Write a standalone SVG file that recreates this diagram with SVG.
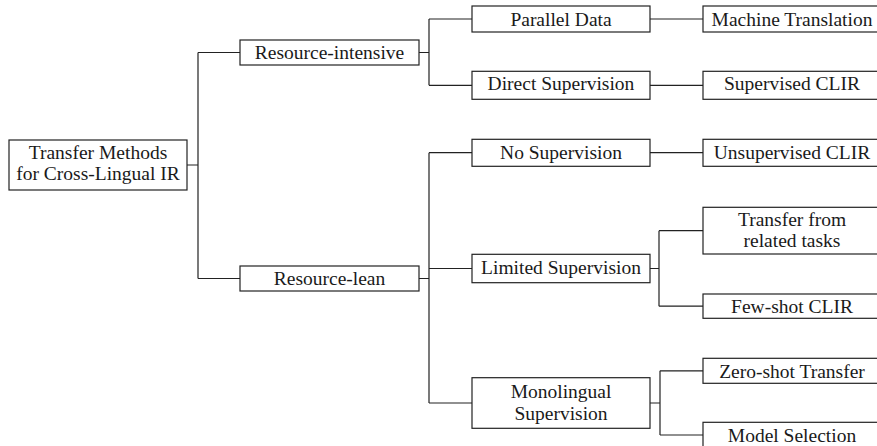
<svg xmlns="http://www.w3.org/2000/svg" width="877" height="446" viewBox="0 0 877 446">
  <style>
    .box { fill: #ffffff; stroke: #222222; stroke-width: 1.2; }
    .edge { fill: none; stroke: #222222; stroke-width: 1.2; }
    .lbl { font-size: 19.5px; fill: #1a1a1a; text-anchor: middle; }
  </style>
  <rect width="877" height="446" fill="#ffffff"/>

  <!-- tree connectors: parent stub, vertical spine, child branches -->
  <g id="connectors" class="edge">
    <path d="M187,165 H198 M198,52.5 V278.5 M198,52.5 H240 M198,278.5 H240"/>
    <path d="M419,52.5 H429 M429,19 V85.3 M429,19 H472 M429,85.3 H472"/>
    <path d="M650,19 H703 M650,85.3 H703"/>
    <path d="M419,278.5 H429 M429,152.7 V403 M429,152.7 H472 M429,268.5 H472 M429,403 H472"/>
    <path d="M650,152.7 H703"/>
    <path d="M650,268.5 H659 M659,230.7 V306.2 M659,230.7 H703 M659,306.2 H703"/>
    <path d="M650,403 H660 M660,370.8 V435 M660,370.8 H703 M660,435 H703"/>
  </g>

  <g id="nodes" font-family="Liberation Serif, DejaVu Serif, serif">
    <!-- level 0 -->
    <g id="root">
      <rect class="box" x="9" y="140" width="178" height="50"/>
      <text class="lbl" x="98" y="158.5">Transfer Methods</text>
      <text class="lbl" x="98" y="180">for Cross-Lingual IR</text>
    </g>

    <!-- level 1 -->
    <g id="resource-intensive">
      <rect class="box" x="240" y="40" width="179" height="25"/>
      <text class="lbl" x="329.5" y="59">Resource-intensive</text>
    </g>
    <g id="resource-lean">
      <rect class="box" x="240" y="266" width="179" height="25"/>
      <text class="lbl" x="329.5" y="285">Resource-lean</text>
    </g>

    <!-- level 2 -->
    <g id="parallel-data">
      <rect class="box" x="472" y="6" width="178" height="26"/>
      <text class="lbl" x="561" y="25.5">Parallel Data</text>
    </g>
    <g id="direct-supervision">
      <rect class="box" x="472" y="71.3" width="178" height="28"/>
      <text class="lbl" x="561" y="90">Direct Supervision</text>
    </g>
    <g id="no-supervision">
      <rect class="box" x="472" y="139.3" width="178" height="27"/>
      <text class="lbl" x="561" y="158.5">No Supervision</text>
    </g>
    <g id="limited-supervision">
      <rect class="box" x="472" y="254.3" width="178" height="28.4"/>
      <text class="lbl" x="561" y="273.6">Limited Supervision</text>
    </g>
    <g id="monolingual-supervision">
      <rect class="box" x="472" y="377.7" width="178" height="50.6"/>
      <text class="lbl" x="561" y="398.3">Monolingual</text>
      <text class="lbl" x="561" y="419.5">Supervision</text>
    </g>

    <!-- level 3 -->
    <g id="machine-translation">
      <rect class="box" x="703" y="6" width="178" height="26"/>
      <text class="lbl" x="792" y="25.5">Machine Translation</text>
    </g>
    <g id="supervised-clir">
      <rect class="box" x="703" y="71.3" width="178" height="28"/>
      <text class="lbl" x="792" y="90">Supervised CLIR</text>
    </g>
    <g id="unsupervised-clir">
      <rect class="box" x="703" y="139.3" width="178" height="27"/>
      <text class="lbl" x="792" y="158.5">Unsupervised CLIR</text>
    </g>
    <g id="transfer-related-tasks">
      <rect class="box" x="703" y="207.3" width="178" height="46.7"/>
      <text class="lbl" x="792" y="225.5">Transfer from</text>
      <text class="lbl" x="792" y="246.7">related tasks</text>
    </g>
    <g id="few-shot-clir">
      <rect class="box" x="703" y="294" width="178" height="24.3"/>
      <text class="lbl" x="792" y="312.7">Few-shot CLIR</text>
    </g>
    <g id="zero-shot-transfer">
      <rect class="box" x="703" y="358.3" width="178" height="25"/>
      <text class="lbl" x="792" y="377.7">Zero-shot Transfer</text>
    </g>
    <g id="model-selection">
      <rect class="box" x="703" y="422.3" width="178" height="25.4"/>
      <text class="lbl" x="792" y="441.7">Model Selection</text>
    </g>
  </g>
</svg>
